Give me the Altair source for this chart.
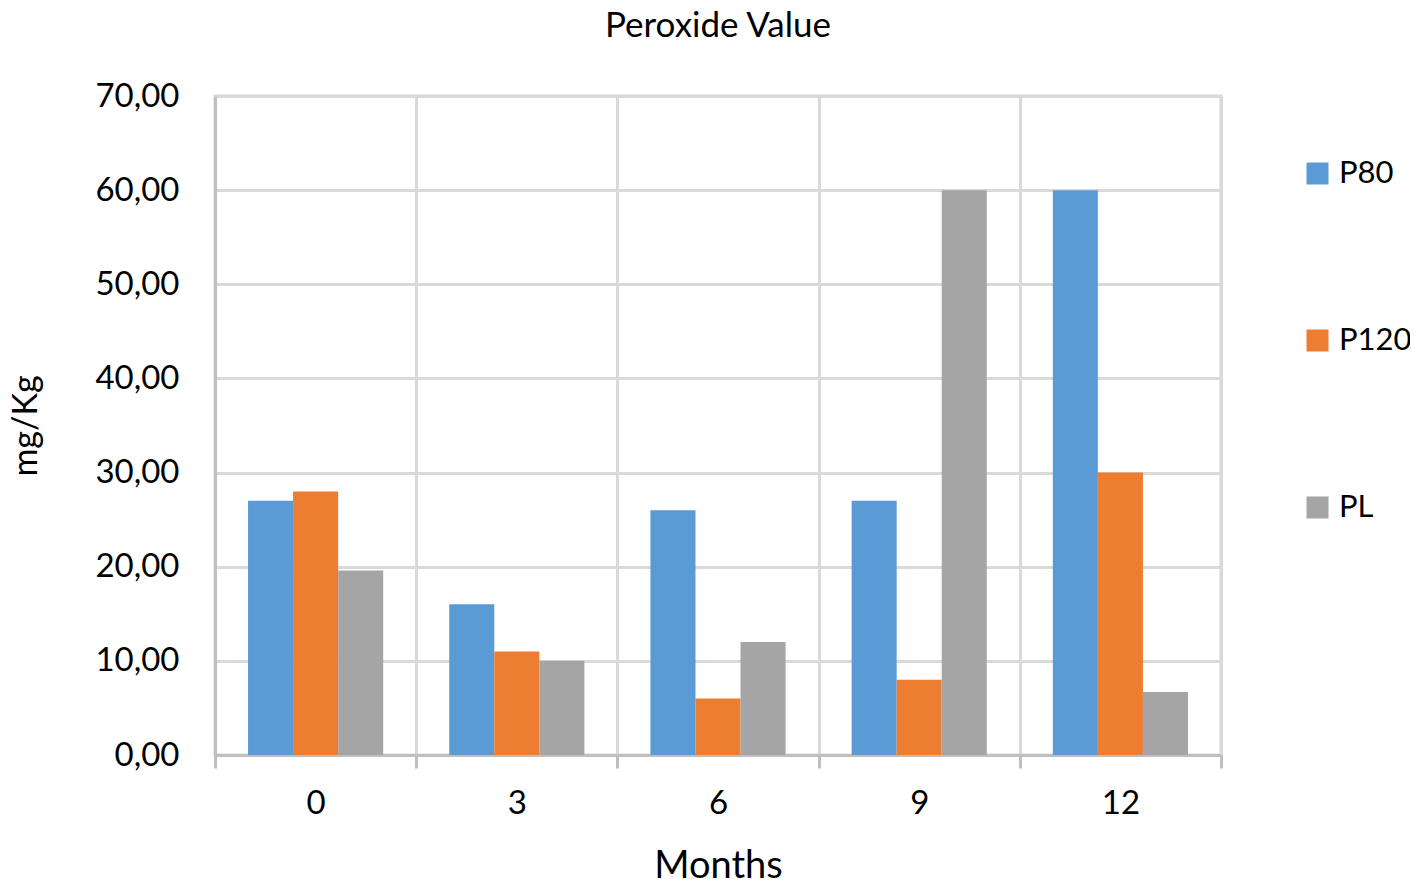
import altair as alt
import pandas as pd

months = ["0", "3", "6", "9", "12"]
series = ["P80", "P120", "PL"]
p80 = [27.0, 16.0, 26.0, 27.0, 60.0]
p120 = [28.0, 11.0, 6.0, 8.0, 30.0]
pl = [19.6, 10.0, 12.0, 60.0, 6.7]
colors = ["#5B9BD5", "#ED7D31", "#A5A5A5"]

rows = []
for name, vals in zip(series, [p80, p120, pl]):
    for m, v in zip(months, vals):
        rows.append({"Month": m, "Series": name, "Value": v})
df = pd.DataFrame(rows)

FONT = "Lato"

chart = alt.Chart(df).mark_bar().encode(
    x=alt.X("Month:N", sort=months,
            scale=alt.Scale(paddingInner=0, paddingOuter=0),
            axis=alt.Axis(title="Months", labelAngle=0, tickBand="extent",
                          grid=True, gridColor="#d9d9d9", gridWidth=3,
                          domainColor="#bfbfbf", domainWidth=3,
                          tickColor="#bfbfbf", tickWidth=3, tickSize=13,
                          labelFontSize=33, labelPadding=19, labelColor="black",
                          labelFont=FONT, titleFont=FONT, titleFontSize=38,
                          titleFontWeight="normal", titleColor="black",
                          titleY=111, titleBaseline="middle")),
    xOffset=alt.XOffset("Series:N", sort=series,
                        scale=alt.Scale(paddingInner=0, paddingOuter=0.733)),
    y=alt.Y("Value:Q", scale=alt.Scale(domain=[0, 70]),
            axis=alt.Axis(title="mg/Kg", values=[0, 10, 20, 30, 40, 50, 60, 70],
                          labelExpr="replace(format(datum.value, '.2f'), '.', ',')",
                          ticks=False,
                          grid=True, gridColor="#d9d9d9", gridWidth=3,
                          domainColor="#bfbfbf", domainWidth=3,
                          labelFontSize=33, labelPadding=36, labelColor="black",
                          labelFont=FONT, titleFont=FONT, titleFontSize=34,
                          titleFontWeight="normal", titleColor="black",
                          titleX=-189, titleBaseline="middle")),
    color=alt.Color("Series:N", sort=series,
                    scale=alt.Scale(domain=series, range=colors),
                    legend=alt.Legend(title=None, orient="none",
                                      legendX=1087, legendY=62,
                                      symbolType="square", symbolSize=484,
                                      symbolStrokeWidth=0,
                                      labelFontSize=31, labelFont=FONT,
                                      labelColor="black", rowPadding=135,
                                      labelOffset=6)),
).properties(
    width=1006, height=659,
    title=alt.TitleParams("Peroxide Value", font=FONT, fontSize=35,
                          fontWeight="normal", color="black",
                          anchor="middle", frame="group", offset=36),
    autosize=alt.AutoSizeParams(type="none"),
    padding={"left": 207, "top": 88, "right": 189, "bottom": 129},
).configure_view(stroke="#d9d9d9", strokeWidth=3)

chart.save("out.html", embed_options={"renderer": "svg", "actions": False})
